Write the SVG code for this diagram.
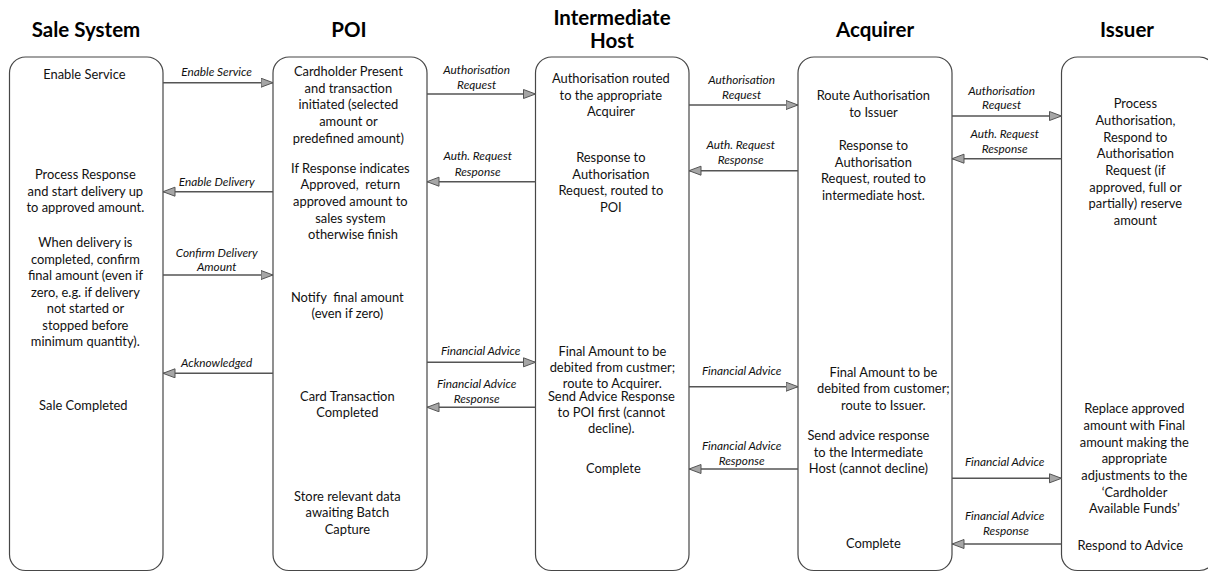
<svg xmlns="http://www.w3.org/2000/svg" width="1208" height="572" viewBox="0 0 1208 572">
<style>
.bg{fill:#ffffff}
.box{fill:#ffffff;stroke:#474747;stroke-width:1.2}
.hdr{font-family:Lato,"Liberation Sans",sans-serif;font-weight:bold;font-size:20.5px;fill:#000;text-anchor:middle}
.txt{font-family:Lato,"Liberation Sans",sans-serif;font-size:12.9px;fill:#111;text-anchor:middle}
.lbl{font-family:Lato,"Liberation Sans",sans-serif;font-style:italic;font-size:11.8px;fill:#111;text-anchor:middle}
.arr{stroke:#555;stroke-width:1.4;fill:none;marker-end:url(#ah)}
</style>
<defs>
<marker id="ah" markerUnits="userSpaceOnUse" markerWidth="14" markerHeight="11" refX="12.5" refY="5" orient="auto">
<path d="M0.5,0.5 L12.5,5 L0.5,9.5 Z" fill="#a6a6a6" stroke="#555" stroke-width="1"/>
</marker>
</defs>
<rect class="bg" x="0" y="0" width="1208" height="572"/>

<g id="sale-system">
<text class="hdr" x="86" y="37">Sale System</text>
<rect class="box" x="9.5" y="57" width="153.5" height="513.5" rx="16"/>
<text class="txt" xml:space="preserve">
<tspan x="86" y="79">Enable Service</tspan>
<tspan x="87" y="179">Process Response</tspan>
<tspan x="87" y="195.7">and start delivery up</tspan>
<tspan x="87" y="212.3">to approved amount.</tspan>
<tspan x="87" y="247">When delivery is</tspan>
<tspan x="87" y="263.5">completed, confirm</tspan>
<tspan x="87" y="280">final amount (even if</tspan>
<tspan x="87" y="296.5">zero, e.g. if delivery</tspan>
<tspan x="87" y="313">not started or</tspan>
<tspan x="87" y="329.5">stopped before</tspan>
<tspan x="87" y="346">minimum quantity).</tspan>
<tspan x="85" y="410">Sale Completed</tspan>
</text>
</g>

<g id="poi">
<text class="hdr" x="349" y="37">POI</text>
<rect class="box" x="273" y="57" width="154" height="513.5" rx="16"/>
<text class="txt" xml:space="preserve">
<tspan x="350" y="76">Cardholder Present</tspan>
<tspan x="350" y="92.7">and transaction</tspan>
<tspan x="350" y="109.3">initiated (selected</tspan>
<tspan x="350" y="126">amount or</tspan>
<tspan x="350" y="142.7">predefined amount)</tspan>
<tspan x="352" y="172.7">If Response indicates</tspan>
<tspan x="352" y="189.3">Approved,  return</tspan>
<tspan x="352" y="206">approved amount to</tspan>
<tspan x="352" y="222.5">sales system</tspan>
<tspan x="353" y="239"> otherwise finish</tspan>
<tspan x="349" y="301.7">Notify  final amount</tspan>
<tspan x="349" y="318.3">(even if zero)</tspan>
<tspan x="349" y="400.7">Card Transaction</tspan>
<tspan x="349" y="417.3">Completed</tspan>
<tspan x="349" y="500.7">Store relevant data</tspan>
<tspan x="349" y="517.3">awaiting Batch</tspan>
<tspan x="349" y="534">Capture</tspan>
</text>
</g>

<g id="intermediate-host">
<text class="hdr" x="612" y="25">Intermediate</text>
<text class="hdr" x="612" y="48.3">Host</text>
<rect class="box" x="535.5" y="57" width="153.5" height="513.5" rx="16"/>
<text class="txt" xml:space="preserve">
<tspan x="612.5" y="83">Authorisation routed</tspan>
<tspan x="612.5" y="99.7">to the appropriate</tspan>
<tspan x="612.5" y="116.3">Acquirer</tspan>
<tspan x="612.5" y="162">Response to</tspan>
<tspan x="612.5" y="178.7">Authorisation</tspan>
<tspan x="612.5" y="195.3">Request, routed to</tspan>
<tspan x="612.5" y="212">POI</tspan>
<tspan x="614" y="355.7">Final Amount to be</tspan>
<tspan x="614" y="372.3">debited from custmer;</tspan>
<tspan x="614" y="388">route to Acquirer.</tspan>
<tspan x="613" y="401">Send Advice Response</tspan>
<tspan x="613" y="417.3">to POI first (cannot</tspan>
<tspan x="613" y="433.3">decline).</tspan>
<tspan x="615" y="473.3">Complete</tspan>
</text>
</g>

<g id="acquirer">
<text class="hdr" x="875" y="37">Acquirer</text>
<rect class="box" x="798" y="57" width="154" height="513.5" rx="16"/>
<text class="txt" xml:space="preserve">
<tspan x="875" y="100">Route Authorisation</tspan>
<tspan x="875" y="116.7">to Issuer</tspan>
<tspan x="875" y="150">Response to</tspan>
<tspan x="875" y="166.7">Authorisation</tspan>
<tspan x="875" y="183.3">Request, routed to</tspan>
<tspan x="875" y="200">intermediate host.</tspan>
<tspan x="885" y="376.5">Final Amount to be</tspan>
<tspan x="885" y="393">debited from customer;</tspan>
<tspan x="885" y="409.5">route to Issuer.</tspan>
<tspan x="870" y="440">Send advice response</tspan>
<tspan x="870" y="456.5">to the Intermediate</tspan>
<tspan x="870" y="473.3">Host (cannot decline)</tspan>
<tspan x="875" y="548.3">Complete</tspan>
</text>
</g>

<g id="issuer">
<text class="hdr" x="1127" y="37">Issuer</text>
<rect class="box" x="1061.5" y="57" width="154" height="513.5" rx="16"/>
<text class="txt" xml:space="preserve">
<tspan x="1137" y="108.3">Process</tspan>
<tspan x="1137" y="125">Authorisation,</tspan>
<tspan x="1137" y="141.7">Respond to</tspan>
<tspan x="1137" y="158.3">Authorisation</tspan>
<tspan x="1137" y="175">Request (if</tspan>
<tspan x="1137" y="191.7">approved, full or</tspan>
<tspan x="1137" y="208.3">partially) reserve</tspan>
<tspan x="1137" y="225">amount</tspan>
<tspan x="1136" y="413.3">Replace approved</tspan>
<tspan x="1136" y="430">amount with Final</tspan>
<tspan x="1136" y="446.7">amount making the</tspan>
<tspan x="1136" y="463.3">appropriate</tspan>
<tspan x="1136" y="480">adjustments to the</tspan>
<tspan x="1136" y="496.7">‘Cardholder</tspan>
<tspan x="1136" y="513.3">Available Funds’</tspan>
<tspan x="1132" y="550">Respond to Advice</tspan>
</text>
</g>

<g id="connectors">
<line class="arr" x1="163" y1="82.7" x2="273" y2="82.7"/>
<line class="arr" x1="273" y1="191.7" x2="163" y2="191.7"/>
<line class="arr" x1="163" y1="275" x2="273" y2="275"/>
<line class="arr" x1="273" y1="373.3" x2="163" y2="373.3"/>

<line class="arr" x1="427" y1="94" x2="535.5" y2="94"/>
<line class="arr" x1="535.5" y1="181.7" x2="427" y2="181.7"/>
<line class="arr" x1="427" y1="362.3" x2="535.5" y2="362.3"/>
<line class="arr" x1="535.5" y1="407.3" x2="427" y2="407.3"/>

<line class="arr" x1="689" y1="105" x2="798" y2="105"/>
<line class="arr" x1="798" y1="170.7" x2="689" y2="170.7"/>
<line class="arr" x1="689" y1="386.7" x2="798" y2="386.7"/>
<line class="arr" x1="798" y1="469" x2="689" y2="469"/>

<line class="arr" x1="952" y1="116" x2="1061.5" y2="116"/>
<line class="arr" x1="1061.5" y1="158.7" x2="952" y2="158.7"/>
<line class="arr" x1="952" y1="478.3" x2="1061.5" y2="478.3"/>
<line class="arr" x1="1061.5" y1="544" x2="952" y2="544"/>

<text class="lbl">
<tspan x="218" y="76">Enable Service</tspan>
<tspan x="218" y="186">Enable Delivery</tspan>
<tspan x="218" y="256.5">Confirm Delivery</tspan>
<tspan x="218" y="271">Amount</tspan>
<tspan x="218" y="367.3">Acknowledged</tspan>

<tspan x="478" y="74">Authorisation</tspan>
<tspan x="478" y="89">Request</tspan>
<tspan x="479" y="160">Auth. Request</tspan>
<tspan x="479" y="175.7">Response</tspan>
<tspan x="482" y="355">Financial Advice</tspan>
<tspan x="478" y="388.3">Financial Advice</tspan>
<tspan x="478" y="403.3">Response</tspan>

<tspan x="743" y="84">Authorisation</tspan>
<tspan x="743" y="99.3">Request</tspan>
<tspan x="742" y="149.3">Auth. Request</tspan>
<tspan x="742" y="164.3">Response</tspan>
<tspan x="743" y="375">Financial Advice</tspan>
<tspan x="743" y="450">Financial Advice</tspan>
<tspan x="743" y="465">Response</tspan>

<tspan x="1003" y="95">Authorisation</tspan>
<tspan x="1003" y="109.3">Request</tspan>
<tspan x="1006" y="138.3">Auth. Request</tspan>
<tspan x="1006" y="153.3">Response</tspan>
<tspan x="1006" y="466">Financial Advice</tspan>
<tspan x="1006" y="520">Financial Advice</tspan>
<tspan x="1006" y="535">Response</tspan>
</text>
</g>
</svg>
